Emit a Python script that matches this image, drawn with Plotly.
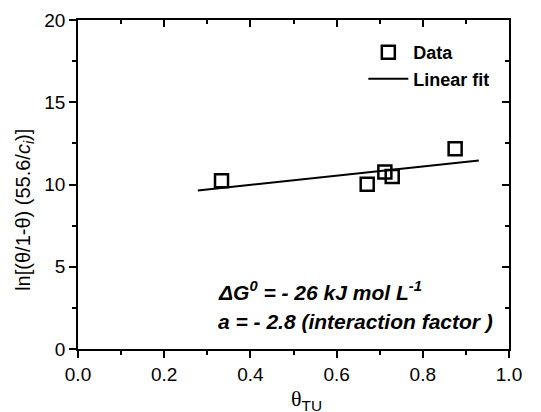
import plotly.graph_objects as go

theta = [0.333, 0.671, 0.712, 0.729, 0.875]
ln_val = [10.23, 10.02, 10.76, 10.49, 12.18]
fit_x = [0.278, 0.93]
fit_y = [9.63, 11.46]

fig = go.Figure()
fig.add_trace(go.Scatter(x=theta, y=ln_val, mode="markers", name="<b>Data</b>",
                         marker=dict(symbol="square-open", size=13, color="black",
                                     line=dict(width=2.5, color="black"))))
fig.add_trace(go.Scatter(x=fit_x, y=fit_y, mode="lines", name="<b>Linear fit</b>",
                         line=dict(color="black", width=2)))
fig.add_trace(go.Scatter(x=[None], y=[None], xaxis="x2", yaxis="y2", showlegend=False,
                         hoverinfo="skip"))

tickfont = dict(family="Liberation Sans, Arial", size=19, color="black")
common = dict(showgrid=False, zeroline=False, showline=True, linecolor="black",
              linewidth=1.5, tickcolor="black", tickwidth=1.5, automargin=False)

fig.update_layout(
    width=541, height=412,
    margin=dict(l=78, r=32, t=20, b=63),
    plot_bgcolor="white", paper_bgcolor="white",
    showlegend=True,
    legend=dict(x=0.662, y=0.957, xanchor="left", yanchor="top",
                font=dict(family="Liberation Sans, Arial", size=18, color="black"),
                bgcolor="rgba(0,0,0,0)", tracegroupgap=0, itemwidth=40),
    xaxis=dict(range=[0, 1], tickvals=[0, 0.2, 0.4, 0.6, 0.8, 1.0],
               ticktext=["0.0", "0.2", "0.4", "0.6", "0.8", "1.0"],
               ticks="outside", ticklen=7, tickfont=tickfont,
               minor=dict(tickvals=[0.1, 0.3, 0.5, 0.7, 0.9], ticks="outside",
                          ticklen=4, tickcolor="black", tickwidth=1.5),
               **common),
    yaxis=dict(range=[0, 20], tickvals=[0, 5, 10, 15, 20], ticks="outside", ticklen=7,
               tickfont=tickfont,
               minor=dict(tickvals=[2.5, 7.5, 12.5, 17.5], ticks="outside",
                          ticklen=4, tickcolor="black", tickwidth=1.5),
               **common),
    xaxis2=dict(range=[0, 1], overlaying="x", side="top", anchor="y",
                tickvals=[0, 0.2, 0.4, 0.6, 0.8, 1.0], showticklabels=False,
                ticks="inside", ticklen=7,
                minor=dict(tickvals=[0.1, 0.3, 0.5, 0.7, 0.9], ticks="inside",
                           ticklen=4, tickcolor="black", tickwidth=1.5),
                **common),
    yaxis2=dict(range=[0, 20], overlaying="y", side="right", anchor="x",
                tickvals=[0, 5, 10, 15, 20], showticklabels=False,
                ticks="inside", ticklen=7,
                minor=dict(tickvals=[2.5, 7.5, 12.5, 17.5], ticks="inside",
                           ticklen=4, tickcolor="black", tickwidth=1.5),
                **common),
)

# axis titles
fig.add_annotation(x=-0.123, y=0.423, xref="paper", yref="paper", xanchor="center",
                   yanchor="middle", showarrow=False, textangle=-90,
                   text="ln[(θ/1-θ) (55.6/<i>c</i><sub><i>i</i></sub>)]",
                   font=dict(family="Liberation Sans, Arial", size=20, color="black"))
fig.add_annotation(x=0.49, y=-0.105, xref="paper", yref="paper", xanchor="left",
                   yanchor="top", showarrow=False,
                   text="<span style='font-family:Liberation Serif'>θ</span><sub>TU</sub>",
                   font=dict(family="Liberation Sans, Arial", size=22, color="black"))

fig.add_annotation(x=0.32, y=0.177, xref="paper", yref="paper", xanchor="left", yanchor="middle",
                   showarrow=False, align="left",
                   text="<b><i>ΔG<sup>0</sup> = - 26 kJ mol L<sup>-1</sup></i></b>",
                   font=dict(family="Liberation Sans, Arial", size=21, color="black"))
fig.add_annotation(x=0.32, y=0.085, xref="paper", yref="paper", xanchor="left", yanchor="middle",
                   showarrow=False, align="left",
                   text="<b><i>a = - 2.8 (interaction factor )</i></b>",
                   font=dict(family="Liberation Sans, Arial", size=21, color="black"))

fig.write_html("out.html", config={"displayModeBar": False},
               post_script="document.body.style.margin='0';document.body.style.overflow='hidden';")
